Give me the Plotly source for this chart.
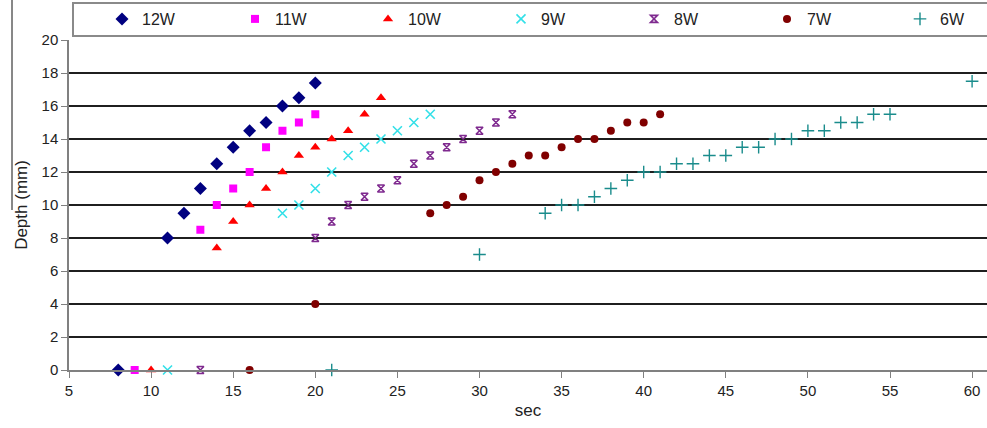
import plotly.graph_objects as go

# ---- data ----
x_12w = [8, 11, 12, 13, 14, 15, 16, 17, 18, 19, 20]
y_12w = [0, 8, 9.5, 11, 12.5, 13.5, 14.5, 15, 16, 16.5, 17.4]

x_11w = [9, 13, 14, 15, 16, 17, 18, 19, 20]
y_11w = [0, 8.5, 10, 11, 12, 13.5, 14.5, 15, 15.5]

x_10w = [10, 14, 15, 16, 17, 18, 19, 20, 21, 22, 23, 24]
y_10w = [0, 7.4, 9, 10, 11, 12, 13, 13.5, 14, 14.5, 15.5, 16.5]

x_9w = [11, 18, 19, 20, 21, 22, 23, 24, 25, 26, 27]
y_9w = [0, 9.5, 10, 11, 12, 13, 13.5, 14, 14.5, 15, 15.5]

x_8w = [13, 20, 21, 22, 23, 24, 25, 26, 27, 28, 29, 30, 31, 32]
y_8w = [0, 8, 9, 10, 10.5, 11, 11.5, 12.5, 13, 13.5, 14, 14.5, 15, 15.5]

x_7w = [16, 20, 27, 28, 29, 30, 31, 32, 33, 34, 35, 36, 37, 38, 39, 40, 41]
y_7w = [0, 4, 9.5, 10, 10.5, 11.5, 12, 12.5, 13, 13, 13.5, 14, 14, 14.5, 15, 15, 15.5]

x_6w = [21, 30, 34, 35, 36, 37, 38, 39, 40, 41, 42, 43, 44, 45, 46, 47, 48,
        49, 50, 51, 52, 53, 54, 55, 60]
y_6w = [0, 7, 9.5, 10, 10, 10.5, 11, 11.5, 12, 12, 12.5, 12.5, 13, 13, 13.5,
        13.5, 14, 14, 14.5, 14.5, 15, 15, 15.5, 15.5, 17.5]

series_names = ["12W", "11W", "10W", "9W", "8W", "7W", "6W"]
x_ticks = [5, 10, 15, 20, 25, 30, 35, 40, 45, 50, 55, 60]
y_ticks = [0, 2, 4, 6, 8, 10, 12, 14, 16, 18, 20]

# ---- styles ----
styles = [
    dict(symbol="diamond", color="#000080", size=10, lw=0),
    dict(symbol="square", color="#FF00FF", size=8, lw=0),
    dict(symbol="triangle-up", color="#FF0000", size=9, lw=0),
    dict(symbol="x-thin-open", color="#33E0E8", size=9, lw=1.6),
    dict(symbol="hourglass-open", color="#7F2A8F", size=7, lw=1.6),
    dict(symbol="circle", color="#800000", size=8, lw=0),
    dict(symbol="cross-thin-open", color="#1A8C8C", size=9, lw=1.4),
]
xs = [x_12w, x_11w, x_10w, x_9w, x_8w, x_7w, x_6w]
ys = [y_12w, y_11w, y_10w, y_9w, y_8w, y_7w, y_6w]

fig = go.Figure()
for i, (name, x, y, st) in enumerate(zip(series_names, xs, ys, styles)):
    fig.add_trace(go.Scatter(
        x=x, y=y, name=name, mode="markers", cliponaxis=False,
        marker=dict(symbol=st["symbol"], color=st["color"], size=st["size"],
                    line=dict(width=st["lw"], color=st["color"])),
        legendwidth=30 if i == len(series_names) - 1 else None,
    ))

W, H = 987, 428
L, R, T, B = 69, 0, 40, 58
pw, ph = W - L - R, H - T - B

def px_x(p):
    return (p - L) / pw

def px_y(p):
    return (H - B - p) / ph

font_family = "Liberation Sans, Arial, sans-serif"

fig.update_layout(
    width=W, height=H,
    margin=dict(l=L, r=R, t=T, b=B, autoexpand=False),
    paper_bgcolor="white", plot_bgcolor="white",
    font=dict(family=font_family, size=15, color="#222"),
    showlegend=True,
    legend=dict(
        orientation="h", x=px_x(102), xanchor="left",
        y=px_y(19), yanchor="middle",
        entrywidth=88, entrywidthmode="pixels",
        bgcolor="rgba(0,0,0,0)", borderwidth=0,
        font=dict(family=font_family, size=16, color="#222"),
        itemsizing="trace",
    ),
    xaxis=dict(
        range=[5, 5 + pw / 16.42], tickmode="array", tickvals=x_ticks,
        showgrid=False, zeroline=False, automargin=False,
        showline=True, linecolor="#808080", linewidth=1.5,
        ticks="outside", ticklen=6, tickcolor="#808080", tickwidth=1.2,
        tickfont=dict(size=15, color="#222"),
        title=dict(text="sec", font=dict(size=17, color="#222"), standoff=6),
    ),
    yaxis=dict(
        range=[0, 20], tickmode="array", tickvals=y_ticks,
        showgrid=True, gridcolor="#1f1f1f", gridwidth=1.5,
        zeroline=False, automargin=False,
        showline=True, linecolor="#808080", linewidth=1.5,
        ticks="outside", ticklen=6, tickcolor="#808080", tickwidth=1.2,
        tickfont=dict(size=15, color="#222"),
        title=dict(text="Depth (mm)", font=dict(size=17, color="#222"), standoff=10),
    ),
    shapes=[
        dict(type="rect", xref="paper", yref="paper",
             x0=px_x(73), x1=px_x(990), y0=px_y(36), y1=px_y(3),
             line=dict(color="#8a8a8a", width=2), fillcolor="rgba(0,0,0,0)",
             layer="above"),
        dict(type="line", xref="paper", yref="paper",
             x0=px_x(12), x1=px_x(12), y0=px_y(0), y1=px_y(210),
             line=dict(color="#111", width=1)),
    ],
)

fig.write_html(
    "out.html",
    config={"displayModeBar": False},
    post_script="document.body.style.margin='0';document.body.style.overflow='hidden';",
)
